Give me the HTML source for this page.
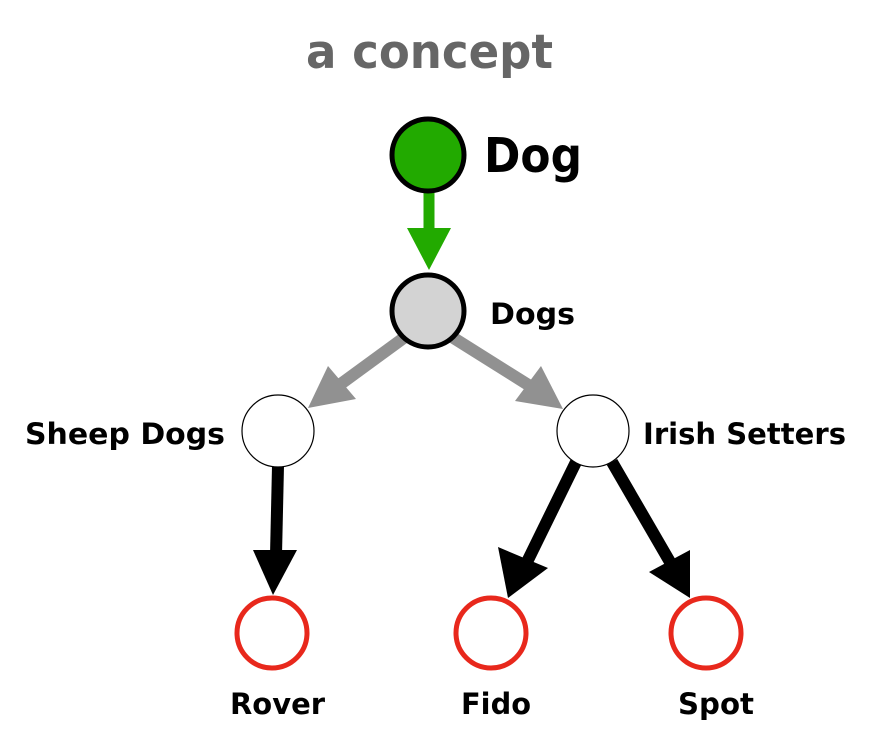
<!DOCTYPE html>
<html><head><style>body{margin:0;background:#fff}svg{display:block}text{font-family:"DejaVu Sans","Liberation Sans",sans-serif;font-weight:bold}</style></head>
<body>
<svg width="870" height="734" viewBox="0 0 870 734" xmlns="http://www.w3.org/2000/svg">
<text x="306" y="68" font-size="47" fill="#666" textLength="247" lengthAdjust="spacingAndGlyphs">a concept</text>
<line x1="429" y1="190" x2="429" y2="232" stroke="#22aa00" stroke-width="11"/>
<polygon points="407,228 451,228 429,270" fill="#22aa00"/>
<circle cx="428" cy="155" r="36" fill="#22aa00" stroke="#000" stroke-width="5"/>
<text x="484" y="172" font-size="48" fill="#000" textLength="98" lengthAdjust="spacingAndGlyphs">Dog</text>
<line x1="405" y1="337" x2="338" y2="386" stroke="#919191" stroke-width="12"/>
<polygon points="308,408 328,366 356,399" fill="#919191"/>
<line x1="452" y1="337" x2="530" y2="386" stroke="#919191" stroke-width="12"/>
<polygon points="563,409 541,366 515,401" fill="#919191"/>
<circle cx="428" cy="311" r="36" fill="#d3d3d3" stroke="#000" stroke-width="5"/>
<text x="490" y="324" font-size="29" fill="#000" textLength="85" lengthAdjust="spacingAndGlyphs">Dogs</text>
<line x1="278" y1="466" x2="276" y2="555" stroke="#000" stroke-width="12"/>
<polygon points="253,550 297,550 273,595" fill="#000"/>
<line x1="576" y1="462" x2="527" y2="562" stroke="#000" stroke-width="12"/>
<polygon points="508,598 498,547 548,568" fill="#000"/>
<line x1="612" y1="462" x2="670" y2="562" stroke="#000" stroke-width="12"/>
<polygon points="690,598 649,572 690,550" fill="#000"/>
<circle cx="278" cy="431" r="36" fill="#fff" stroke="#000" stroke-width="1.2"/>
<circle cx="593" cy="431" r="36" fill="#fff" stroke="#000" stroke-width="1.2"/>
<text x="25" y="444" font-size="29" fill="#000" textLength="200" lengthAdjust="spacingAndGlyphs">Sheep Dogs</text>
<text x="643" y="444" font-size="29" fill="#000" textLength="203" lengthAdjust="spacingAndGlyphs">Irish Setters</text>
<circle cx="272" cy="633" r="35" fill="#fff" stroke="#e8281c" stroke-width="5"/>
<circle cx="491" cy="633" r="35" fill="#fff" stroke="#e8281c" stroke-width="5"/>
<circle cx="706" cy="633" r="35" fill="#fff" stroke="#e8281c" stroke-width="5"/>
<text x="230" y="714" font-size="29" fill="#000" textLength="95" lengthAdjust="spacingAndGlyphs">Rover</text>
<text x="461" y="714" font-size="29" fill="#000" textLength="70" lengthAdjust="spacingAndGlyphs">Fido</text>
<text x="678" y="714" font-size="29" fill="#000" textLength="76" lengthAdjust="spacingAndGlyphs">Spot</text>
</svg>
</body></html>
